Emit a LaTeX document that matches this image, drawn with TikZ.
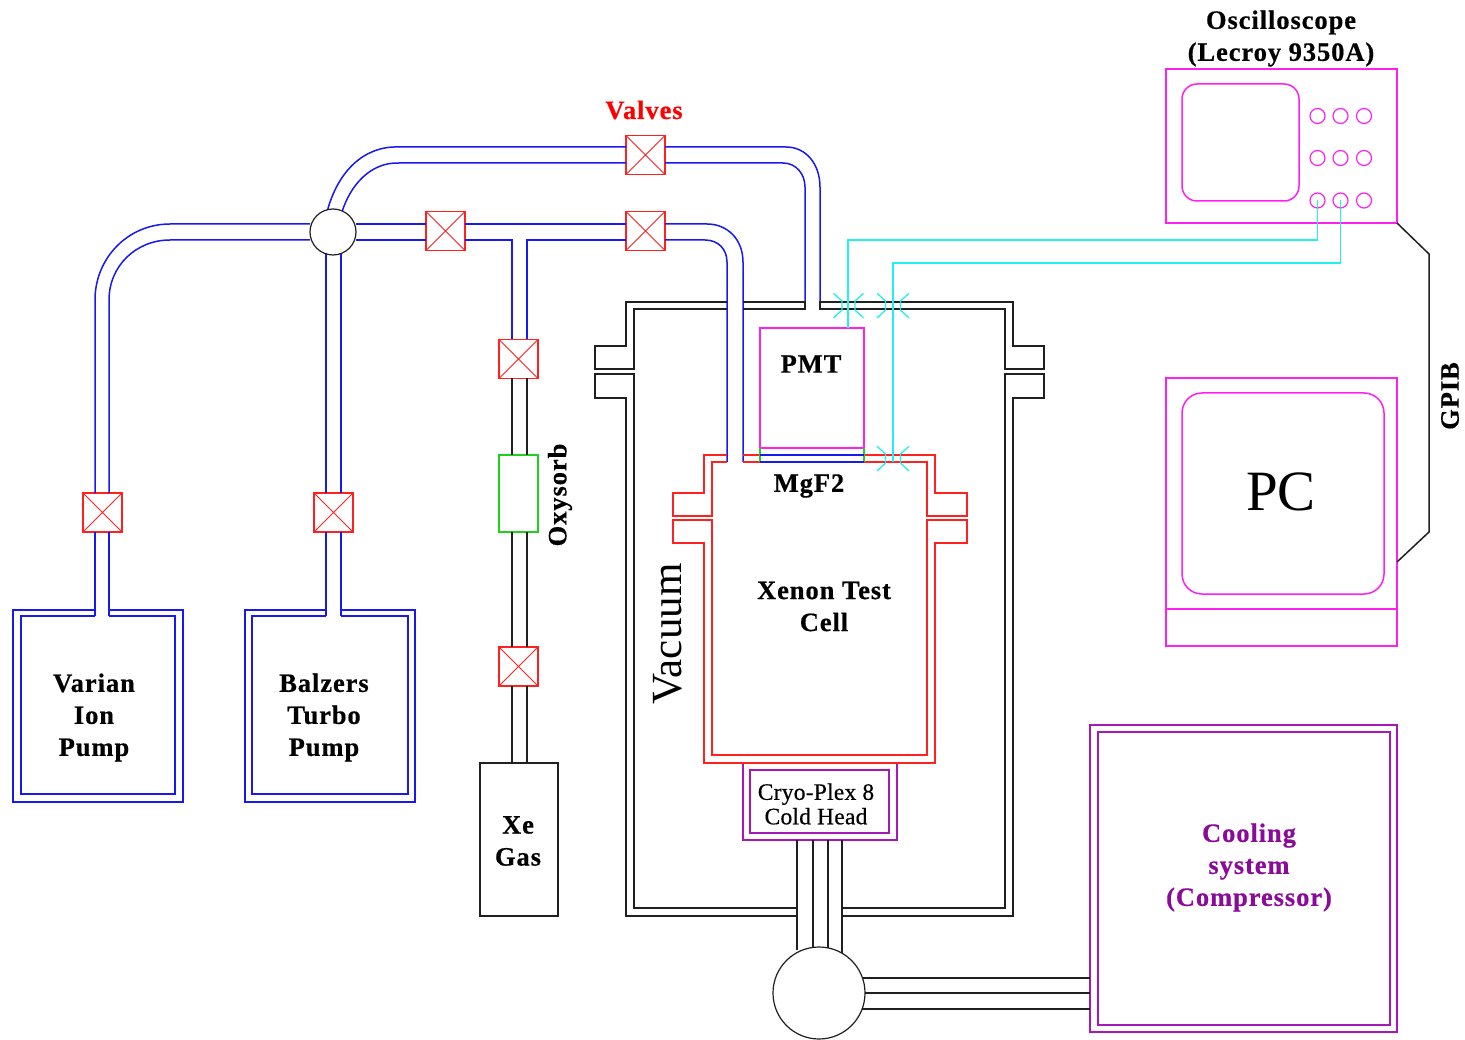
\documentclass[tikz,border=0pt]{standalone}
\usepackage{fontspec}
\setmainfont{Liberation Serif}
\newfontfamily\semifont[FakeBold=0.5,LetterSpace=1]{Liberation Serif}
\newfontfamily\labfont[FakeBold=0.5,LetterSpace=3.5,BoldFont={Liberation Serif Bold}]{Liberation Serif Bold}
\usetikzlibrary{calc}
\definecolor{cblue}{HTML}{1818F0}
\definecolor{cred}{HTML}{FF2020}
\definecolor{cmag}{HTML}{FF20F0}
\definecolor{ccyan}{HTML}{20F0F0}
\definecolor{cgreen}{HTML}{20D020}
\definecolor{cpur}{HTML}{A818B8}
\definecolor{cblk}{HTML}{202020}
\definecolor{ctxt}{HTML}{8A0A9A}
\tikzset{
  x=1pt,y=-1pt,
  every path/.style={line width=1.5pt},
  every node/.style={inner sep=0pt,outer sep=0pt},
  valvebox/.style={draw=cred,line width=1.8pt,minimum width=39pt,minimum height=39pt,
    path picture={\draw[cred,line width=1pt] (path picture bounding box.north west)--(path picture bounding box.south east)
      (path picture bounding box.north east)--(path picture bounding box.south west);}},
  lab/.style={font=\labfont\fontsize{26.5}{32}\selectfont,align=center,text=black},
  pipe/.style={draw=cblue},
  blk/.style={draw=cblk},
  circ/.style={circle,draw=cblk,fill=white,line width=1.2pt},
  knob/.style={circle,draw=cmag,minimum size=15pt,line width=1.2pt},
  cable/.style={draw=ccyan,line width=1.4pt},
  joint/.style={draw=ccyan,line width=1.3pt},
}
\newcommand{\rectnode}[6]{% name, colour, x1,y1,x2,y2
  \pgfmathsetmacro{\rw}{#5-#3}\pgfmathsetmacro{\rh}{#6-#4}
  \node[draw=#2,minimum width=\rw pt,minimum height=\rh pt,anchor=north west] (#1) at (#3,#4) {};}
\newcommand{\jointat}[3]{% x y half-gap: pair of connector brackets around x at y
  \draw[joint] (#1-#3-8.5,#2-8.7)--(#1-#3,#2-1)--(#1-#3,#2+8)--(#1-#3-8.5,#2+16);
  \draw[joint] (#1+#3+8.5,#2-8.7)--(#1+#3,#2-1)--(#1+#3,#2+8)--(#1+#3+8.5,#2+16);}
\begin{document}
\begin{tikzpicture}
\useasboundingbox (0,0) rectangle (1465,1040);
% pumps
\rectnode{ionout}{cblue}{13}{610}{183}{802}
\rectnode{turboout}{cblue}{245}{610}{415}{802}
\fill[white] (96,606) rectangle (108,622);
\fill[white] (327,606) rectangle (340,622);
\draw[pipe] (95,616)--(21,616)--(21,794)--(175,794)--(175,616)--(109,616);
\draw[pipe] (326,616)--(252,616)--(252,794)--(408,794)--(408,616)--(341,616);
% valves
\node[valvebox] (vtop) at (645.5,155) {};
\node[valvebox] (vb1) at (445.5,231) {};
\node[valvebox] (vb2) at (645.5,231) {};
\node[valvebox] (vion) at (102.5,512.5) {};
\node[valvebox] (vturbo) at (333.5,512.5) {};
\node[valvebox] (vx1) at (518.5,359) {};
\node[valvebox] (vx2) at (518.5,666.5) {};
% junction
\coordinate (jc) at (333,232);
% blue pipes: ion pump
\draw[pipe] (310,224)--(170,224) .. controls (128,224) and (95,258) .. (95,300)--([xshift=-7.5pt]vion.north);
\draw[pipe] (310,240)--(170,240) .. controls (136,240) and (109,266) .. (109,300)--([xshift=6.5pt]vion.north);
\draw[pipe] ([xshift=-7.5pt]vion.south)--(95,616);
\draw[pipe] ([xshift=6.5pt]vion.south)--(109,616);
% turbo
\draw[pipe] (326,250)--([xshift=-7.5pt]vturbo.north);
\draw[pipe] (341,250)--([xshift=7.5pt]vturbo.north);
\draw[pipe] ([xshift=-7.5pt]vturbo.south)--(326,616);
\draw[pipe] ([xshift=7.5pt]vturbo.south)--(341,616);
% upper line
\draw[pipe] (327,212) .. controls (338,170) and (365,146) .. (398,147)--([yshift=8pt]vtop.west);
\draw[pipe] (342,212) .. controls (350,186) and (370,162) .. (399,163)--([yshift=-8pt]vtop.west);
\draw[pipe] ([yshift=8pt]vtop.east)--(786,147) .. controls (806,147) and (820,164) .. (820,187)--(820,309);
\draw[pipe] ([yshift=-8pt]vtop.east)--(783,163) .. controls (796,163) and (805,174) .. (805,187)--(805,309);
% lower line
\draw[pipe] (356,224)--([yshift=7pt]vb1.west);
\draw[pipe] (356,240)--([yshift=-9pt]vb1.west);
\draw[pipe] ([yshift=7pt]vb1.east)--([yshift=7pt]vb2.west);
\draw[pipe] ([yshift=-9pt]vb1.east)--(512,240)--([xshift=-6.5pt]vx1.north);
\draw[pipe] ([yshift=-9pt]vb2.west)--(527,240)--([xshift=8.5pt]vx1.north);
\draw[pipe] ([yshift=7pt]vb2.east)--(707,224) .. controls (728,224) and (743,240) .. (743,262)--(743,462);
\draw[pipe] ([yshift=-9pt]vb2.east)--(705,240) .. controls (718,240) and (727,249) .. (727,262)--(727,462);
% junction circle
\node[circ,minimum size=46pt] (junction) at (jc) {};
% gas line
\rectnode{oxy}{cgreen}{499}{455}{538}{532}
\rectnode{xegas}{cblk}{480}{763}{558}{916}
\draw[blk] (512,378)--(512,455);
\draw[blk] (527,378)--(527,455);
\draw[blk] (512,532)--(512,647);
\draw[blk] (527,532)--(527,647);
\draw[blk] (512,686)--(512,763);
\draw[blk] (527,686)--(527,763);
% vacuum vessel
\draw[blk] (727,302)--(626,302)--(626,346)--(595,346)--(595,369)--(634,369)--(634,309)--(727,309);
\draw[blk] (743,302)--(805,302)--(805,309)--(743,309);
\draw[blk] (820,309)--(820,302)--(1013,302)--(1013,346)--(1044,346)--(1044,369)--(1005,369)--(1005,309)--cycle;
\draw[blk] (797,908)--(634,908)--(634,374)--(595,374)--(595,398)--(626,398)--(626,916)--(797,916);
\draw[blk] (842,908)--(1005,908)--(1005,374)--(1044,374)--(1044,398)--(1013,398)--(1013,916)--(842,916);
% test cell
\draw[draw=cred] (727,455)--(704,455)--(704,493)--(673,493)--(673,516)--(712,516)--(712,462)--(727,462);
\draw[draw=cred] (712,520)--(673,520)--(673,543)--(704,543)--(704,763)--(935,763)--(935,543)--(967,543)--(967,520)--(927,520)--(927,755)--(712,755)--cycle;
\draw[draw=cred] (743,455)--(760,455) (743,462)--(760,462);
\draw[draw=cred] (864,455)--(935,455)--(935,493)--(967,493)--(967,516)--(927,516)--(927,462)--(864,462);
% PMT and window
\rectnode{pmt}{cmag}{760}{328}{864}{448}
\draw[draw=cgreen] (pmt.south west)--(760,462);
\draw[draw=cgreen] (pmt.south east)--(864,462);
\draw[pipe] (760,455)--(864,455) (760,462)--(864,462);
% cold head
\rectnode{chout}{cpur}{743}{763}{897}{840}
\rectnode{chin}{cpur}{750}{770}{889}{833}
\draw[draw=cred] (704,763)--(935,763);
% cooling
\rectnode{coolout}{cpur}{1090}{725}{1397}{1032}
\rectnode{coolin}{cpur}{1098}{732}{1390}{1025}
% compressor lines
\node[circ,minimum size=92pt] (comp) at (819,993) {};
\draw[blk] (797,840)--(797,950);
\draw[blk] (813,840)--(813,948);
\draw[blk] (828,840)--(828,948);
\draw[blk] (842,840)--(842,953);
\draw[blk] (862,978)--(1090,978);
\draw[blk] (comp.east)--(coolout.west |- comp.east);
\draw[blk] (862,1009)--(1090,1009);
% oscilloscope
\rectnode{scope}{cmag}{1166}{69}{1397}{223}
\draw[draw=cmag,rounded corners=15pt] (1182,84) rectangle (1299,201);
\node[knob] (k11) at (1317.5,116) {};
\node[knob] (k12) at (1340.5,116) {};
\node[knob] (k13) at (1364,116) {};
\node[knob] (k21) at (1317.5,158) {};
\node[knob] (k22) at (1340.5,158) {};
\node[knob] (k23) at (1364,158) {};
\node[knob] (k31) at (1317.5,200.5) {};
\node[knob] (k32) at (1340.5,200.5) {};
\node[knob] (k33) at (1364,200.5) {};
% PC
\rectnode{pc}{cmag}{1166}{378}{1397}{646}
\draw[draw=cmag] (1166,609)--(1397,609);
\draw[draw=cmag,rounded corners=20pt] (1182,393) rectangle (1384,594);
\draw[blk] (scope.south east)--(1429,254)--(1429,532)--(1397,562);
% cables
\draw[cable] (848,328)--(848,240)--(1317.5,240)--(k31.center);
\draw[cable] (893,462)--(893,263)--(1340.5,263)--(k32.center);
\jointat{848.5}{302}{6.5}
\jointat{893}{302}{7.5}
\jointat{893}{455}{7.5}
% labels
\node[lab,text=red] (tvalves) at (644,110) {Valves};
\node[lab] (tscope) at (1281,38.5) {Oscilloscope\\(Lecroy 9350A)};
\node[lab] (tpmt) at (811,364) {PMT};
\node[lab] (tmgf) at (809,486) {MgF2};
\node[lab] (tcell) at (824,606.5) {Xenon Test\\Cell};
\node[lab] (tion) at (94,717.5) {Varian\\Ion\\Pump};
\node[lab] (tturbo) at (324,717.5) {Balzers\\Turbo\\Pump};
\node[lab] (txe) at (518,841) {Xe\\Gas};
\node[lab,rotate=90] (toxy) at (560,495) {Oxysorb};
\node[lab,rotate=90] (tgpib) at (1450,396) {GPIB};
\node[font=\fontsize{43}{43}\selectfont,rotate=90] (tvac) at (668,634) {Vacuum};
\node[font=\fontsize{57}{57}\selectfont] (tpc) at (1281,492) {PC};
\node[font=\semifont\fontsize{23.5}{24.5}\selectfont,align=center] (tch) at (816,804) {Cryo-Plex 8\\Cold Head};
\node[lab,text=ctxt] (tcool) at (1249,867.5) {Cooling\\system\\(Compressor)};
\end{tikzpicture}
\end{document}
